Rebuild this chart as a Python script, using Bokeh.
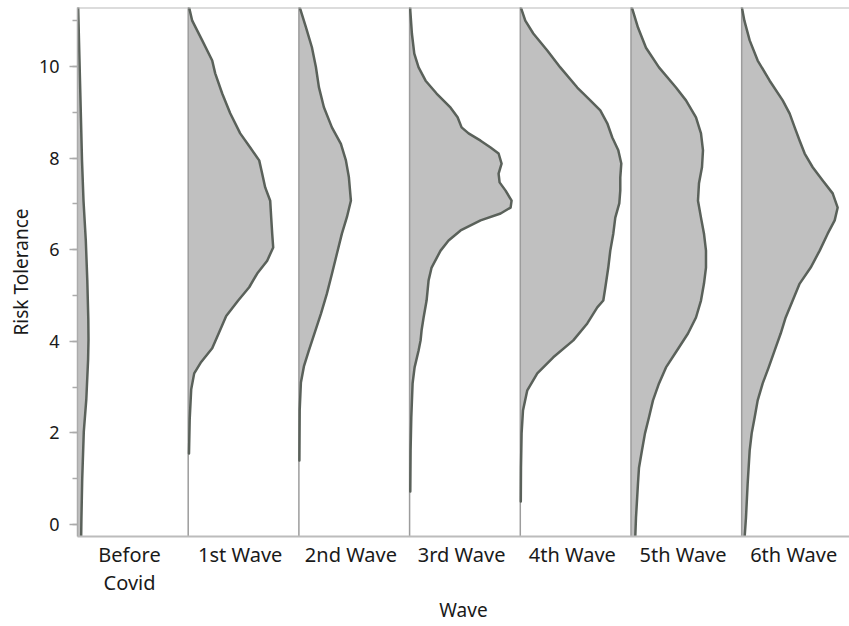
from bokeh.plotting import figure
from bokeh.models import Range1d, FixedTicker, SingleIntervalTicker, Span
from bokeh.embed import file_html
from bokeh.resources import INLINE

# ---- data ----
wave_labels = ["Before\nCovid", "1st Wave", "2nd Wave", "3rd Wave", "4th Wave", "5th Wave", "6th Wave"]

before_covid_y = [11.5, 11.25, 9.69, 7.95, 7.07, 6.20, 5.33, 4.48, 4.04, 3.60, 2.73, 2.03, 0.98, 0.11, -0.5]
before_covid_d = [0.6, 0.7, 2.5, 4.5, 6.0, 8.3, 9.8, 10.8, 11.0, 10.6, 8.8, 6.3, 4.7, 3.9, 3.5]

wave1_y = [11.5, 11.28, 11.0, 10.57, 10.13, 9.85, 9.41, 8.98, 8.54, 8.23, 7.95, 7.66, 7.36, 7.07, 6.70,
           6.35, 6.05, 5.76, 5.48, 5.18, 4.89, 4.55, 4.15, 3.85, 3.55, 3.30, 2.95, 2.30, 1.55]
wave1_d = [0.5, 1, 4, 14, 24, 27, 34, 42, 52, 62, 71, 74, 77, 82, 83,
           84, 85, 79, 69, 61, 50, 38, 30, 24, 13, 6, 3, 1.5, 0.8]

wave2_y = [11.5, 11.28, 10.86, 10.42, 9.99, 9.55, 9.11, 8.67, 8.31, 7.95, 7.58, 7.07, 6.71, 6.35,
           5.91, 5.47, 5.04, 4.60, 4.20, 3.80, 3.45, 3.10, 2.50, 1.40]
wave2_d = [0.3, 1, 7, 13, 17, 20, 25, 33, 42, 47, 50, 52, 48, 43,
           38, 33, 28, 22, 16, 10, 5, 2, 0.8, 0.5]

wave3_y = [11.5, 11.22, 10.72, 10.28, 9.98, 9.69, 9.41, 9.10, 8.89, 8.67, 8.54, 8.38, 8.23, 8.10, 7.88,
           7.66, 7.47, 7.29, 7.07, 6.92, 6.79, 6.64, 6.42, 6.20, 5.98, 5.61, 5.33, 4.89, 4.52, 4.24,
           4.02, 3.80, 3.43, 3.08, 2.34, 1.62, 0.72]
wave3_d = [0.5, 0.7, 2.3, 4.7, 9, 16, 27, 41, 48, 52, 59, 71, 81, 89, 92,
           89, 90, 96, 102, 101, 91, 71, 51, 39, 31, 22, 19, 17, 14, 12,
           11, 9, 5, 3, 1.7, 1, 0.7]

wave4_y = [11.5, 11.28, 11.0, 10.72, 10.35, 9.98, 9.54, 9.26, 9.04, 8.76, 8.45, 8.17, 7.88, 7.58, 7.29,
           7.01, 6.70, 6.35, 5.98, 5.61, 5.17, 4.89, 4.74, 4.39, 4.02, 3.65, 3.30, 2.93, 2.49, 1.99,
           1.24, 0.50]
wave4_d = [0.3, 0.7, 5, 13, 27, 40, 57, 70, 80, 87, 92, 98, 101, 100, 100,
           99, 95, 93, 90, 88, 85, 83, 77, 67, 53, 33, 17, 7, 2.7, 1.3,
           0.7, 0.5]

wave5_y = [11.5, 11.28, 10.85, 10.41, 9.98, 9.54, 9.26, 8.89, 8.54, 8.17, 7.80, 7.45, 7.07, 6.70, 6.35,
           5.98, 5.61, 5.26, 4.89, 4.52, 4.17, 3.80, 3.43, 3.08, 2.71, 2.34, 1.99, 1.62, 1.24, 0.90,
           0.52, 0.15, -0.26, -0.5]
wave5_d = [0.3, 1, 7, 15, 28, 45, 55, 65, 70, 72, 71, 68, 67, 70, 73,
           75, 75, 73, 70, 65, 57, 46, 35, 28, 22, 18, 14, 11, 8, 7,
           6, 5, 4.3, 4]

wave6_y = [11.5, 11.28, 11.0, 10.57, 10.13, 9.69, 9.26, 8.97, 8.67, 8.38, 8.10, 7.80, 7.51, 7.23, 6.92,
           6.64, 6.35, 5.98, 5.61, 5.26, 4.89, 4.52, 4.17, 3.80, 3.43, 3.08, 2.71, 2.34, 1.99, 1.62,
           0.90, 0.15, -0.26, -0.5]
wave6_d = [0.1, 0.3, 2.7, 8, 16, 28, 41, 48, 53, 58, 63, 71, 81, 91, 96,
           93, 86, 78, 69, 58, 51, 44, 39, 33, 27, 21, 16, 13, 10, 8,
           6, 4.3, 3, 2.5]

series_y = [before_covid_y, wave1_y, wave2_y, wave3_y, wave4_y, wave5_y, wave6_y]
series_d = [before_covid_d, wave1_d, wave2_d, wave3_d, wave4_d, wave5_d, wave6_d]

# ---- styling ----
FONT = "Noto Sans"
FILL = "#c0c0c0"
CURVE = "#5a615a"
SEP = "#9c9c9c"
AXIS = "#ababab"
DENS_SCALE = 1 / 110.7      # density units -> category widths
OFFSET = 0.47               # label centre sits this far right of the violin base
Y_LO, Y_HI = -0.262, 11.288

p = figure(width=849, height=626,
           x_range=Range1d(-OFFSET, 7 - OFFSET - 0.026),
           y_range=Range1d(Y_LO, Y_HI),
           output_backend="svg", toolbar_location=None,
           min_border_top=7, min_border_right=0, min_border_left=77, min_border_bottom=90)
p.outline_line_color = None
p.xgrid.visible = False
p.ygrid.visible = False
p.background_fill_color = "white"
p.border_fill_color = "white"

base = [i - OFFSET for i in range(len(wave_labels))]

for b, ys, ds in zip(base, series_y, series_d):
    xs = [b + d * DENS_SCALE for d in ds]
    p.patch([b] + xs + [b], [ys[0]] + ys + [ys[-1]], fill_color=FILL, line_color=None)

p.segment(x0=base[1:], y0=[-1] * 6, x1=base[1:], y1=[12] * 6, line_color=SEP, line_width=1.5)

for b, ys, ds in zip(base, series_y, series_d):
    xs = [b + d * DENS_SCALE for d in ds]
    p.line(xs, ys, line_color=CURVE, line_width=2.5, line_join="round", line_cap="round")

p.add_layout(Span(location=Y_HI, dimension="width", line_color="#b9b9b9", line_width=2))

# y axis
ya = p.yaxis[0]
ya.ticker = SingleIntervalTicker(interval=2, num_minor_ticks=2)
ya.axis_label = "Risk Tolerance"
ya.axis_label_text_font = FONT
ya.axis_label_text_font_size = "19px"
ya.axis_label_text_font_style = "normal"
ya.axis_label_text_color = "#1a1a1a"
ya.axis_label_standoff = 2
ya.major_label_text_font = FONT
ya.major_label_text_font_size = "18px"
ya.major_label_text_color = "#1a1a1a"
ya.major_label_standoff = 10
ya.major_tick_out = 8
ya.major_tick_in = 0
ya.minor_tick_out = 5
ya.minor_tick_in = 0
ya.axis_line_color = AXIS
ya.axis_line_width = 1.5
ya.major_tick_line_color = AXIS
ya.major_tick_line_width = 1.5
ya.minor_tick_line_color = AXIS
ya.minor_tick_line_width = 1.5

# x axis
xa = p.xaxis[0]
xa.ticker = FixedTicker(ticks=list(range(len(wave_labels))))
xa.major_label_overrides = {i: lab for i, lab in enumerate(wave_labels)}
xa.axis_label = "Wave"
xa.axis_label_text_font = FONT
xa.axis_label_text_font_size = "19px"
xa.axis_label_text_font_style = "normal"
xa.axis_label_text_color = "#1a1a1a"
xa.axis_label_standoff = -2
xa.major_label_text_font = FONT
xa.major_label_text_font_size = "20px"
xa.major_label_text_line_height = 1.05
xa.major_label_text_color = "#1a1a1a"
xa.major_label_standoff = 4
xa.major_tick_line_color = None
xa.minor_tick_line_color = None
xa.major_tick_out = 0
xa.axis_line_color = "#bcbcbc"
xa.axis_line_width = 2

open("out.html", "w").write(file_html(p, INLINE))
